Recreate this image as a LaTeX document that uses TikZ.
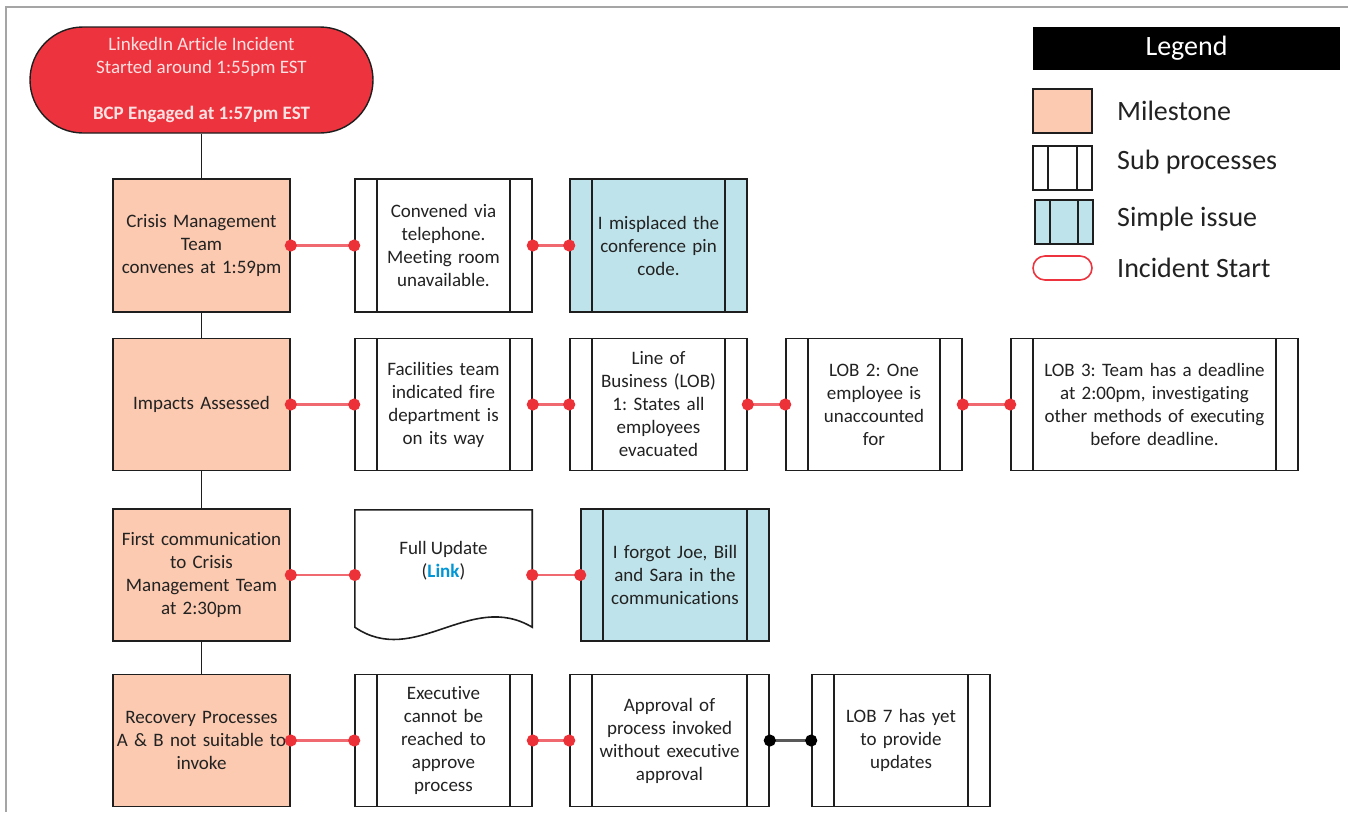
\documentclass[tikz,border=0pt]{standalone}
\usepackage{fontspec}
\setmainfont{Carlito}[Ligatures=NoCommon]
\usetikzlibrary{arrows.meta}
\definecolor{milefill}{RGB}{251,202,176}
\definecolor{issuefill}{RGB}{191,227,234}
\definecolor{incred}{RGB}{237,52,62}
\definecolor{linkred}{RGB}{240,104,112}
\definecolor{dotred}{RGB}{236,50,56}
\definecolor{linkblue}{RGB}{0,150,214}
\definecolor{framegray}{RGB}{165,165,165}
\definecolor{boxline}{RGB}{30,30,30}
\definecolor{inktext}{RGB}{34,34,34}
\frenchspacing

\begin{document}
\begin{tikzpicture}[x=1pt,y=-1pt,
  every node/.style={font=\fontsize{19}{23}\selectfont, text=inktext},
  incident/.style={draw=boxline, line width=1.4pt, fill=incred, rounded corners=53pt, minimum width=343pt, minimum height=106pt, align=center, inner sep=0pt, text=white!85!incred},
  milestone/.style={draw=boxline, line width=1.6pt, fill=milefill, minimum width=177pt, minimum height=132pt, text width=172pt, align=center, inner sep=0pt},
  subproc/.style={draw=boxline, line width=1.6pt, fill=white, minimum width=177pt, minimum height=132pt, text width=128pt, align=center, inner sep=0pt,
    path picture={\draw[boxline, line width=1.6pt] ([xshift=#1]path picture bounding box.north west) -- ([xshift=#1]path picture bounding box.south west) ([xshift=-#1]path picture bounding box.north east) -- ([xshift=-#1]path picture bounding box.south east);}},
  subproc/.default=22pt,
  issue/.style={subproc=#1, fill=issuefill},
  issue/.default=22pt,
  docarea/.style={minimum width=177pt, minimum height=130pt, inner sep=0pt},
  redlink/.style={draw=linkred, line width=2.4pt, shorten <=-6pt, shorten >=-6pt, {Circle[length=12pt,color=dotred]}-{Circle[length=12pt,color=dotred]}},
  blacklink/.style={draw=black!65, line width=2.4pt, shorten <=-6pt, shorten >=-6pt, {Circle[length=12pt,color=black]}-{Circle[length=12pt,color=black]}},
  spine/.style={draw=boxline, line width=1.6pt},
  legendtext/.style={font=\fontsize{28}{32}\selectfont, anchor=west, inner sep=0pt},
  keybox/.style={minimum width=59pt, minimum height=44pt, text width=1pt, inner sep=0pt}
]
\useasboundingbox (0,0) rectangle (1348,812);
\draw[framegray, line width=2pt] (1348,7) -- (6,7) -- (6,812);

\node[incident] (incident) at (201.5,80) {LinkedIn Article Incident\\Started around 1:55pm EST\\[23pt]\textbf{BCP Engaged at 1:57pm EST}};
\node[milestone, minimum height=133pt] (crisis) at (201.5,245.5) {Crisis Management\\Team\\convenes at 1:59pm};
\node[milestone] (impacts) at (201.5,404.5) {Impacts Assessed};
\node[milestone] (firstcomm) at (201.5,575) {First communication\\to Crisis\\Management Team\\at 2:30pm};
\node[milestone] (recovery) at (201.5,740.5) {Recovery Processes\\A \& B not suitable to\\invoke};

\draw[spine] (incident) -- (crisis);
\draw[spine] (crisis) -- (impacts);
\draw[spine] (impacts) -- (firstcomm);
\draw[spine] (firstcomm) -- (recovery);

\node[subproc, minimum height=133pt] (convened) at (443.5,245.5) {Convened via\\telephone.\\Meeting room\\unavailable.};
\node[issue, minimum height=133pt] (pincode) at (658.5,245.5) {I misplaced the\\conference pin\\code.};

\node[subproc] (facilities) at (443.5,404.5) {Facilities team\\indicated fire\\department is\\on its way};
\node[subproc] (lobone) at (658.5,404.5) {Line of\\Business (LOB)\\1: States all\\employees\\evacuated};
\node[subproc, minimum width=176pt] (lobtwo) at (874,404.5) {LOB 2: One\\employee is\\unaccounted\\for};
\node[subproc, minimum width=287pt, text width=236pt] (lobthree) at (1154.5,404.5) {LOB 3: Team has a deadline\\at 2:00pm, investigating\\other methods of executing\\before deadline.};

\node[docarea] (fullupdate) at (443.5,575) {};
\draw[boxline, line width=1.6pt, fill=white] (fullupdate.north west) -- (fullupdate.north east) -- ([yshift=13pt]fullupdate.south east) .. controls ([xshift=-62pt,yshift=50pt]fullupdate.south east) and ([xshift=60pt,yshift=-28pt]fullupdate.south west) .. ([yshift=13pt]fullupdate.south west) -- cycle;
\node[align=center, inner sep=0pt] (fulltext) at (443.5,561) {Full Update\\(\textcolor{linkblue}{\textbf{Link}})};
\node[issue, minimum width=188pt, text width=140pt] (forgot) at (675,575) {I forgot Joe, Bill\\and Sara in the\\communications};

\node[subproc] (executive) at (443.5,740.5) {Executive\\cannot be\\reached to\\approve\\process};
\node[subproc, minimum width=199pt, text width=150pt] (approval) at (669.5,740.5) {Approval of\\process invoked\\without executive\\approval};
\node[subproc, minimum width=178pt] (lobseven) at (901,740.5) {LOB 7 has yet\\to provide\\updates};

\draw[redlink] (crisis.east) -- (convened.west);
\draw[redlink] (convened.east) -- (pincode.west);
\draw[redlink] (impacts.east) -- (facilities.west);
\draw[redlink] (facilities.east) -- (lobone.west);
\draw[redlink] (lobone.east) -- (lobtwo.west);
\draw[redlink] (lobtwo.east) -- (lobthree.west);
\draw[redlink] (firstcomm.east) -- (fullupdate.west);
\draw[redlink] (fullupdate.east) -- (forgot.west);
\draw[redlink] (recovery.east) -- (executive.west);
\draw[redlink] (executive.east) -- (approval.west);
\draw[blacklink] (approval.east) -- (lobseven.west);

\node[fill=black, minimum width=307pt, minimum height=43pt, inner sep=0pt, font=\fontsize{28}{32}\selectfont, text=white] (legendhead) at (1186.5,48.5) {Legend};
\node[keybox, draw=boxline, line width=1.4pt, fill=milefill] (keymile) at (1062.5,111) {};
\node[subproc=15pt, keybox, line width=1.4pt] (keysub) at (1062.5,168) {};
\node[issue=15pt, keybox, minimum width=58pt, line width=1.4pt] (keyissue) at (1064,222) {};
\node[draw=incred, line width=1.6pt, fill=white, rounded corners=12pt, minimum width=59pt, minimum height=24pt, inner sep=0pt] (keyinc) at (1062.5,268) {};
\node[legendtext] (labmile) at (1117,111) {Milestone};
\node[legendtext] (labsub) at (1117,162) {Sub processes};
\node[legendtext] (labissue) at (1117,219) {Simple issue};
\node[legendtext] (labinc) at (1117,268) {Incident Start};
\end{tikzpicture}
\end{document}
